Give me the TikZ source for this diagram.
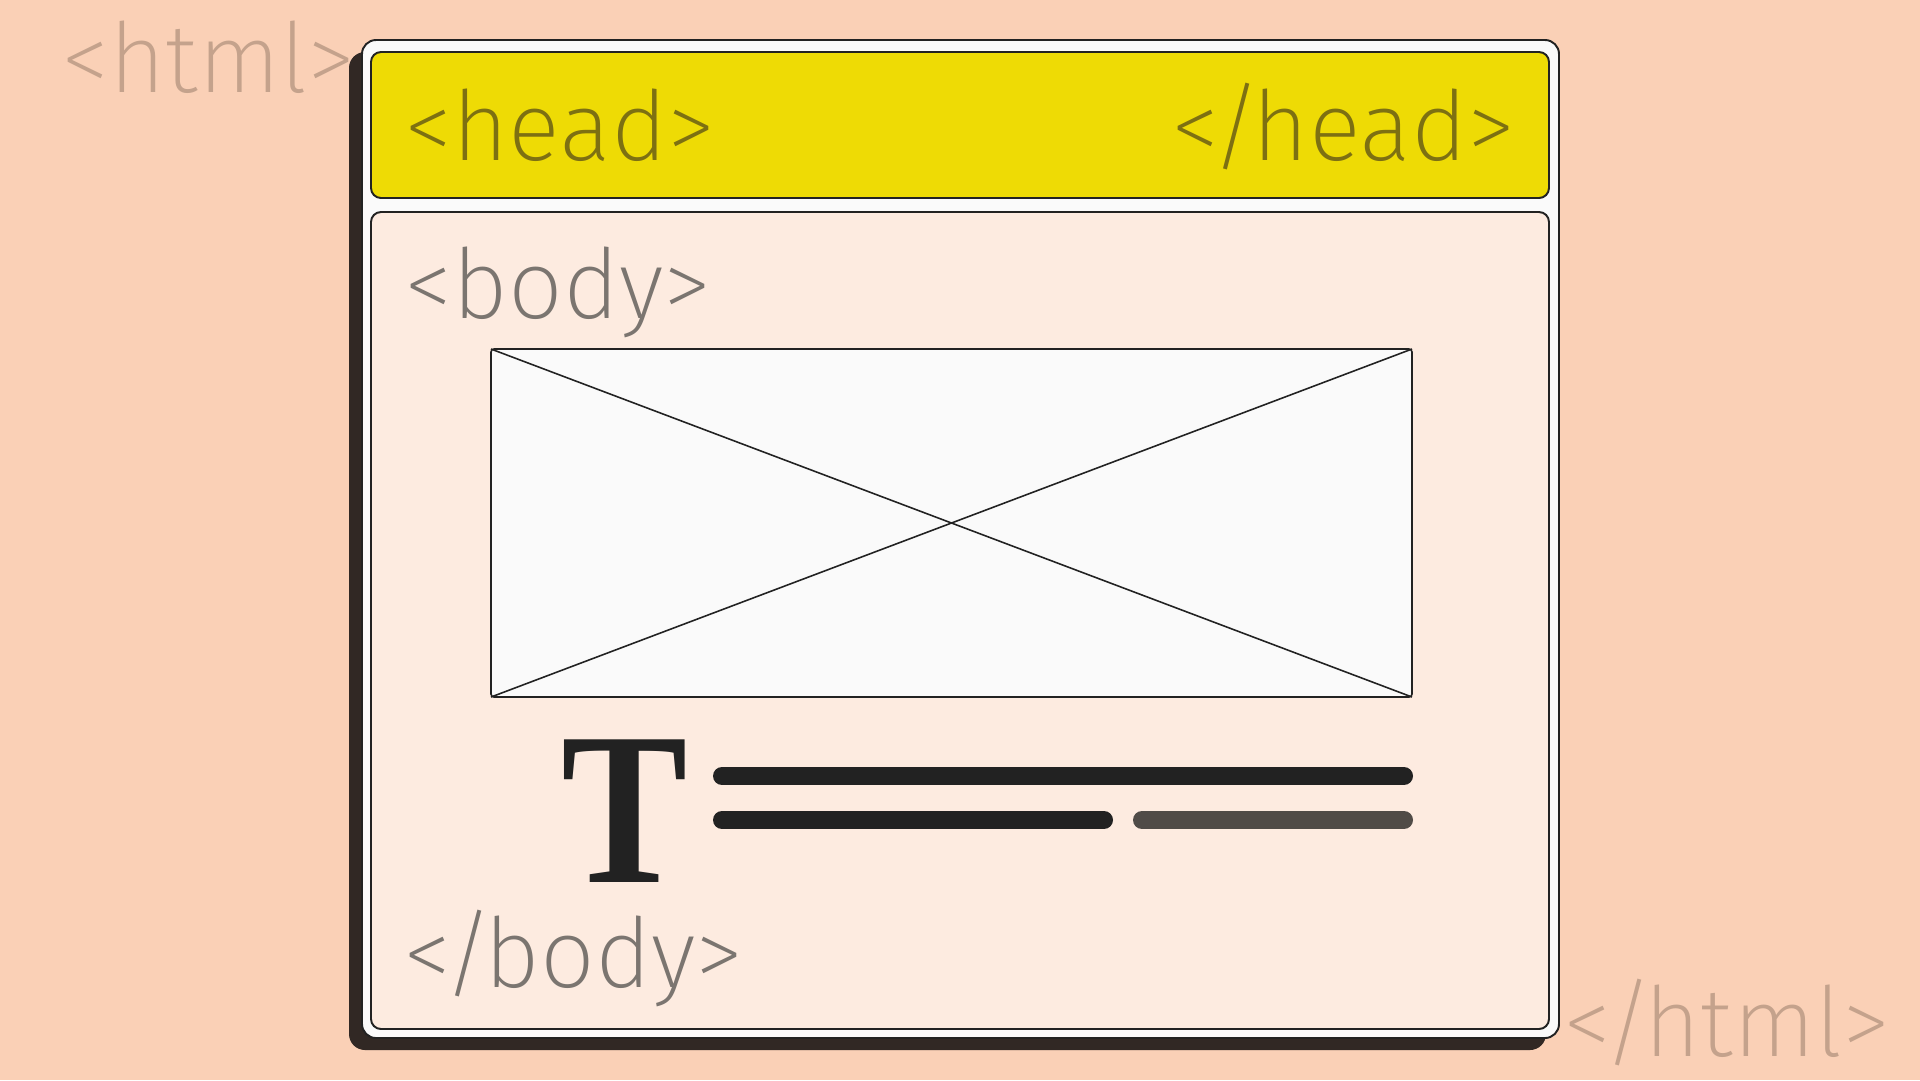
\documentclass[tikz,border=0pt]{standalone}
\usepackage{fontspec}
\usepackage{graphicx}
\usepackage{tikz}
\usetikzlibrary{positioning}
\newfontfamily\tagfont{Fira Sans}[UprightFont=* ExtraLight]
\newfontfamily\glyphfont{Liberation Serif}
\definecolor{peach}{HTML}{FAD0B6}
\definecolor{bodypink}{HTML}{FDEBE0}
\definecolor{headyellow}{HTML}{EEDB05}
\definecolor{paper}{HTML}{FAFAFA}
\definecolor{shadowbrown}{HTML}{312824}
\definecolor{ink}{HTML}{222222}
\definecolor{greybar}{HTML}{504B47}
\definecolor{headtext}{HTML}{7D7012}
\definecolor{bodytext}{HTML}{7B7570}
\definecolor{htmltext}{HTML}{C4A28C}
\newcommand{\closetag}{<\kern-0.09em/\kern-0.09em}
\tikzset{
  tag/.style={font=\tagfont\fontsize{27.5}{30}\selectfont, inner sep=0pt},
  panel/.style={draw=ink, line width=0.55pt, rounded corners=1.0mm},
  bar/.style={line width=1.8mm, line cap=round}
}

\begin{document}
\begin{tikzpicture}[x=0.1mm, y=-0.1mm]
  % Background
  \fill[peach] (0,0) rectangle (1920,1080);
  \useasboundingbox (0,0) rectangle (1920,1080);

  % Page frame with its shadow
  \fill[shadowbrown, rounded corners=1.6mm] (349,52) rectangle (1546,1050);
  \draw[panel, fill=paper, rounded corners=1.4mm] (362,40) rectangle (1559,1038);

  % Head and body panels
  \draw[panel, fill=headyellow] (371,52) rectangle (1549,198);
  \draw[panel, fill=bodypink] (371,212) rectangle (1549,1029);

  % Tags
  \node[tag, text=htmltext, anchor=base west] (htmlopen) at (61,92) {<html>};
  \node[tag, text=htmltext, anchor=base west] (htmlclose) at (1563,1056) {\closetag html>};
  \node[tag, text=headtext, anchor=base west] (headopen) at (404,160) {<head>};
  \node[tag, text=headtext, anchor=base east] (headclose) at (1516,160) {\closetag head>};
  \node[tag, text=bodytext, anchor=base west] (bodyopen) at (404,318) {<body>};
  \node[tag, text=bodytext, anchor=base west] (bodyclose) at (403,987) {\closetag body>};

  % Image placeholder
  \coordinate (imgNW) at (491,349);
  \coordinate (imgSE) at (1412,697);
  \draw[ink, line width=0.45pt, fill=paper, rounded corners=0.3mm] (imgNW) rectangle (imgSE);
  \draw[ink, line width=0.45pt] (imgNW) -- (imgSE);
  \draw[ink, line width=0.45pt] (imgNW |- imgSE) -- (imgSE |- imgNW);

  % Text block
  \node[font=\glyphfont\bfseries\fontsize{62}{62}\selectfont, text=ink, inner sep=0pt,
        anchor=base west] (bigT) at (561,882) {\scalebox{0.87}[1]{T}};
  \coordinate (barA) at (722,776);
  \coordinate (barB) at (722,820);
  \draw[bar, ink] (barA) -- ++(682,0);
  \draw[bar, ink] (barB) -- ++(382,0);
  \draw[bar, greybar] (barB) ++(420,0) -- ++(262,0);
\end{tikzpicture}
\end{document}
